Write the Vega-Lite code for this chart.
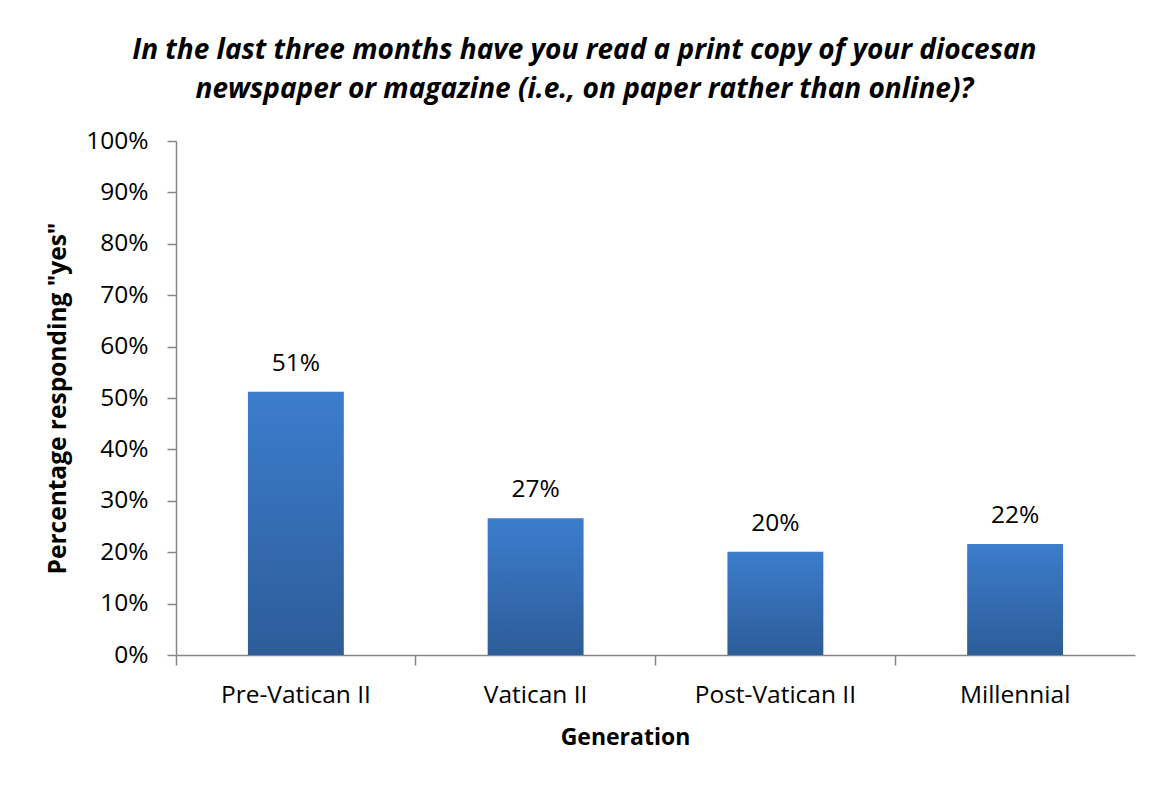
{
  "$schema": "https://vega.github.io/schema/vega-lite/v6.json",
  "autosize": {"type": "none"},
  "width": 959,
  "height": 514,
  "padding": {"left": 176, "top": 141, "right": 19, "bottom": 130},
  "background": "white",
  "title": {
    "text": ["In the last three months have you read a print copy of your diocesan", "newspaper or magazine (i.e., on paper rather than online)?"],
    "font": "Open Sans",
    "fontSize": 28,
    "fontWeight": "bold",
    "fontStyle": "italic",
    "color": "#000000",
    "lineHeight": 39,
    "anchor": "middle",
    "frame": "bounds",
    "offset": 24,
    "dx": -6
  },
  "data": {
    "values": [
      {"generation": "Pre-Vatican II", "pct": 0.512},
      {"generation": "Vatican II", "pct": 0.266},
      {"generation": "Post-Vatican II", "pct": 0.201},
      {"generation": "Millennial", "pct": 0.216}
    ]
  },
  "encoding": {
    "x": {
      "field": "generation",
      "type": "nominal",
      "sort": null,
      "scale": {"paddingInner": 0.6, "paddingOuter": 0.3},
      "axis": {
        "title": "Generation",
        "titleFont": "Open Sans",
        "titleFontSize": 23,
        "titleFontWeight": "bold",
        "titleColor": "#000000",
        "titlePadding": 20,
        "titleX": 449,
        "labelFont": "Open Sans",
        "labelFontSize": 24.5,
        "labelColor": "#000000",
        "labelAngle": 0,
        "labelPadding": 18,
        "domainColor": "#868686",
        "domainWidth": 1.5,
        "tickColor": "#868686",
        "tickWidth": 1.5,
        "tickSize": 10,
        "bandPosition": -0.75
      }
    },
    "y": {
      "field": "pct",
      "type": "quantitative",
      "scale": {"domain": [0, 1]},
      "axis": {
        "title": "Percentage responding \"yes\"",
        "titleFont": "Open Sans",
        "titleFontSize": 24.5,
        "titleFontWeight": "bold",
        "titleColor": "#000000",
        "titlePadding": 15,
        "format": ".0%",
        "values": [0, 0.1, 0.2, 0.3, 0.4, 0.5, 0.6, 0.7, 0.8, 0.9, 1],
        "labelFont": "Open Sans",
        "labelFontSize": 24.5,
        "labelColor": "#000000",
        "labelPadding": 19,
        "grid": false,
        "domainColor": "#868686",
        "domainWidth": 1.5,
        "tickColor": "#868686",
        "tickWidth": 1.5,
        "tickSize": 9
      }
    }
  },
  "layer": [
    {
      "mark": {
        "type": "bar",
        "color": {
          "gradient": "linear",
          "x1": 0, "y1": 0, "x2": 0, "y2": 1,
          "stops": [
            {"offset": 0, "color": "#3c7dcd"},
            {"offset": 1, "color": "#2d5c99"}
          ]
        }
      }
    },
    {
      "mark": {
        "type": "text",
        "font": "Open Sans",
        "fontSize": 24.5,
        "color": "#000000",
        "baseline": "alphabetic",
        "dy": -21
      },
      "encoding": {
        "text": {"field": "pct", "type": "quantitative", "format": ".0%"}
      }
    }
  ],
  "config": {
    "view": {"stroke": null}
  }
}
